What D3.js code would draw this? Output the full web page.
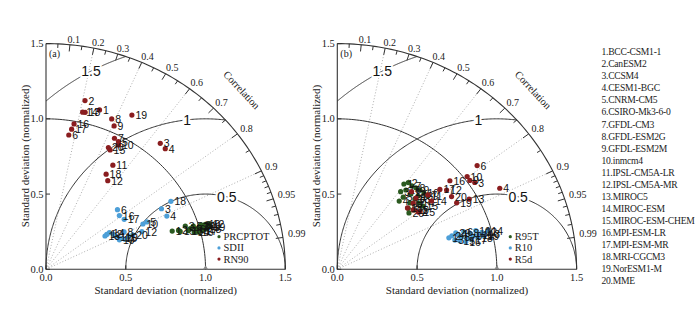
<!DOCTYPE html>
<html><head><meta charset="utf-8">
<script src="https://cdn.jsdelivr.net/npm/d3@7"></script>
<style>body{margin:0;background:#fff;} svg{display:block;}</style>
</head><body><svg id="chart" width="698" height="311"></svg>
<script>
// ---------------- DATA ----------------
const models = ["BCC-CSM1-1","CanESM2","CCSM4","CESM1-BGC","CNRM-CM5","CSIRO-Mk3-6-0","GFDL-CM3","GFDL-ESM2G","GFDL-ESM2M","inmcm4","IPSL-CM5A-LR","IPSL-CM5A-MR","MIROC5","MIROC-ESM","MIROC-ESM-CHEM","MPI-ESM-LR","MPI-ESM-MR","MRI-CGCM3","NorESM1-M","MME"];

const sdTicks = [0.0, 0.5, 1.0, 1.5];
const sdTickLabels = ["0.0", "0.5", "1.0", "1.5"];
const corrMajor = [0.1,0.2,0.3,0.4,0.5,0.6,0.7,0.8,0.9,0.95,0.99];
const corrMajorLabels = ["0.1","0.2","0.3","0.4","0.5","0.6","0.7","0.8","0.9","0.95","0.99"];
const corrMinor = [0.05,0.15,0.25,0.35,0.45,0.55,0.65,0.75,0.85,0.91,0.92,0.93,0.94,0.96,0.97,0.98];
const corrRays = [0.2,0.4,0.6,0.8,0.9];
const rmsLevels = [0.5, 1.0, 1.5];
const rmsLabels = ["0.5", "1", "1.5"];

// Panel (a)
const seriesA = ["PRCPTOT", "SDII", "RN90"];
const prcptotSD = [0.831,0.870,0.919,0.944,0.967,0.979,1.001,1.017,1.023,1.042,1.051,1.067,0.928,0.962,0.878,0.986,1.012,1.039,1.067,1.009];
const prcptotR  = [0.952,0.955,0.950,0.958,0.955,0.962,0.960,0.957,0.964,0.958,0.962,0.959,0.961,0.966,0.958,0.968,0.967,0.966,0.964,0.958];
const sdiiSD = [0.446,0.482,0.828,0.836,0.706,0.598,0.534,0.549,0.561,0.678,0.494,0.651,0.431,0.466,0.518,0.582,0.592,0.904,0.500,0.590];
const sdiiR  = [0.854,0.876,0.874,0.906,0.895,0.749,0.928,0.892,0.922,0.896,0.898,0.923,0.858,0.853,0.918,0.790,0.828,0.866,0.920,0.922];
const rn90SD = [1.111,1.148,1.102,1.096,0.962,0.904,0.971,1.081,1.044,0.943,0.809,0.705,1.072,1.069,0.889,0.982,0.945,0.736,1.158,0.899];
const rn90R  = [0.302,0.213,0.650,0.682,0.472,0.158,0.442,0.381,0.409,0.482,0.518,0.549,0.229,0.215,0.452,0.179,0.170,0.512,0.465,0.435];

// Panel (b)
const seriesB = ["R95T", "R10", "R5d"];
const r95tSD = [0.704,0.728,0.651,0.597,0.633,0.602,0.725,0.732,0.739,0.743,0.748,0.681,0.675,0.675,0.682,0.680,0.634,0.702,0.621,0.585];
const r95tR  = [0.593,0.611,0.610,0.650,0.653,0.739,0.645,0.673,0.701,0.731,0.759,0.677,0.721,0.758,0.787,0.632,0.718,0.720,0.773,0.768];
const r10SD = [0.730,0.752,0.762,0.791,0.804,0.831,0.838,0.865,0.878,0.905,0.916,0.939,0.954,0.978,0.791,0.826,0.865,0.905,0.945,0.781];
const r10R  = [0.958,0.955,0.967,0.956,0.964,0.954,0.969,0.961,0.968,0.959,0.968,0.965,0.970,0.965,0.971,0.975,0.974,0.973,0.972,0.951];
const r5dSD = [0.695,0.634,1.037,1.152,0.648,1.115,0.753,0.684,1.019,1.021,0.618,0.864,0.949,0.745,0.644,0.919,0.834,0.600,0.869,0.864];
const r5dR  = [0.670,0.800,0.831,0.884,0.735,0.786,0.754,0.721,0.815,0.797,0.770,0.793,0.871,0.793,0.804,0.768,0.771,0.733,0.861,0.829];

const colors = ["#2b5a20", "#4d9fd8", "#8a1d1f"];

// ---------------- DRAW ----------------
const svg = d3.select("#chart");
const serif = "'Liberation Serif','Times New Roman',serif";
const sans = "'Liberation Sans',Arial,sans-serif";
const axisCol = "#333";

function drawPanel(x0, tag, names, sds, rs) {
  const g = svg.append("g");
  const xs = d3.scaleLinear().domain([0, 1.5]).range([x0, x0 + 239.3]);
  const ys = d3.scaleLinear().domain([0, 1.5]).range([269.3, 43.6]);
  const P = (sd, c) => [xs(sd * c), ys(sd * Math.sqrt(Math.max(0, 1 - c * c)))];
  const line = d3.line();

  corrRays.forEach(c => {
    g.append("path").attr("d", line([P(0, c), P(1.5, c)]))
      .attr("stroke", "#9a9a9a").attr("stroke-width", 0.8)
      .attr("stroke-dasharray", "1,2").attr("fill", "none");
  });

  const sdArc = d3.range(0, 91).map(a => { const t = a * Math.PI / 180; return [xs(Math.cos(t)), ys(Math.sin(t))]; });
  g.append("path").attr("d", line(sdArc)).attr("stroke", axisCol).attr("stroke-width", 1).attr("fill", "none");

  const rmsAngles = [74.5, 96.6, 118.6];
  rmsLevels.forEach((R, i) => {
    const xi = (3.25 - R * R) / 2;
    const fmin = Math.acos(Math.min(1, (xi - 1) / R));
    const fmax = R <= 1 ? Math.PI : Math.acos(-1 / R);
    const pts = d3.range(0, 201).map(k => {
      const f = fmin + (fmax - fmin) * k / 200;
      return [xs(1 + R * Math.cos(f)), ys(R * Math.sin(f))];
    });
    g.append("path").attr("d", line(pts)).attr("stroke", axisCol).attr("stroke-width", 1).attr("fill", "none");
    const fl = rmsAngles[i] * Math.PI / 180;
    g.append("text").attr("x", xs(1 + R * Math.cos(fl))).attr("y", ys(R * Math.sin(fl)))
      .attr("text-anchor", "middle").attr("dominant-baseline", "central")
      .attr("font-family", sans).attr("font-size", 14).attr("fill", "#111")
      .attr("stroke", "#fff").attr("stroke-width", 4).attr("paint-order", "stroke")
      .text(rmsLabels[i]);
  });

  const outer = d3.range(0, 91).map(a => { const t = a * Math.PI / 180; return [xs(1.5 * Math.cos(t)), ys(1.5 * Math.sin(t))]; });
  g.append("path").attr("d", line(outer)).attr("stroke", axisCol).attr("stroke-width", 1.1).attr("fill", "none");

  g.append("path").attr("d", line([[xs(0), ys(0)], [xs(1.5), ys(0)]])).attr("stroke", axisCol).attr("stroke-width", 1.1);
  g.append("path").attr("d", line([[xs(0), ys(0)], [xs(0), ys(1.5)]])).attr("stroke", axisCol).attr("stroke-width", 1.1);

  sdTicks.forEach((v, i) => {
    g.append("line").attr("x1", xs(v)).attr("x2", xs(v)).attr("y1", ys(0)).attr("y2", ys(0) - 4).attr("stroke", axisCol);
    g.append("line").attr("x1", xs(0)).attr("x2", xs(0) + 4).attr("y1", ys(v)).attr("y2", ys(v)).attr("stroke", axisCol);
    g.append("text").attr("x", xs(v)).attr("y", ys(0) + 8.5).attr("text-anchor", "middle")
      .attr("dominant-baseline", "central").attr("font-family", serif).attr("font-size", 10.5).attr("fill", "#222").text(sdTickLabels[i]);
    g.append("text").attr("x", xs(0) - 2.5).attr("y", ys(v)).attr("text-anchor", "end")
      .attr("dominant-baseline", "central").attr("font-family", serif).attr("font-size", 10.5).attr("fill", "#222").text(sdTickLabels[i]);
  });

  g.append("path").attr("d", `M${xs(1) - 2.5},${ys(0)} L${xs(1) + 2.5},${ys(0)} L${xs(1)},${ys(0) - 4} Z`).attr("fill", "#888");

  const tick = (c, len) => {
    const a = P(1.5, c), b = P(1.5 - len, c);
    g.append("line").attr("x1", a[0]).attr("y1", a[1]).attr("x2", b[0]).attr("y2", b[1]).attr("stroke", axisCol).attr("stroke-width", 1);
  };
  corrMajor.forEach(c => tick(c, 0.045));
  corrMinor.forEach(c => tick(c, 0.027));
  corrMajor.forEach((c, i) => {
    const t = Math.acos(c) + 0.012;
    g.append("text").attr("x", xs(1.535 * Math.cos(t))).attr("y", ys(1.535 * Math.sin(t)))
      .attr("dominant-baseline", "central").attr("font-family", serif).attr("font-size", 10).attr("fill", "#222")
      .text(corrMajorLabels[i]);
  });
  g.append("text").attr("transform", `translate(${x0 + 195.7},90) rotate(47)`)
    .attr("text-anchor", "middle").attr("dominant-baseline", "central")
    .attr("font-family", serif).attr("font-size", 10.5).attr("fill", "#222").text("Correlation");

  g.append("text").attr("x", (xs(0) + xs(1.5)) / 2).attr("y", 289.5).attr("text-anchor", "middle")
    .attr("dominant-baseline", "central").attr("font-family", serif).attr("font-size", 11).attr("fill", "#222")
    .text("Standard deviation (normalized)");
  g.append("text").attr("transform", `translate(${x0 - 21},156) rotate(-90)`).attr("text-anchor", "middle")
    .attr("dominant-baseline", "central").attr("font-family", serif).attr("font-size", 11).attr("fill", "#222")
    .text("Standard deviation (normalized)");
  g.append("text").attr("x", x0 + 3).attr("y", 53).attr("dominant-baseline", "central")
    .attr("font-family", serif).attr("font-size", 10).attr("fill", "#222").text(tag);

  names.forEach((nm, s) => {
    const sdArr = sds[s], rArr = rs[s];
    const pts = sdArr.map((sd, i) => ({ p: P(sd, rArr[i]), id: i + 1 }));
    g.append("g").selectAll("circle").data(pts).join("circle")
      .attr("cx", d => d.p[0]).attr("cy", d => d.p[1]).attr("r", 2.6).attr("fill", colors[s]);
    g.append("g").selectAll("text").data(pts).join("text")
      .attr("x", d => d.p[0] + 3.5).attr("y", d => d.p[1]).attr("dominant-baseline", "central")
      .attr("font-family", sans).attr("font-size", 10.5).attr("fill", "#111").text(d => d.id);
  });

  names.forEach((nm, s) => {
    const ly = 236.7 + s * 11.2;
    g.append("circle").attr("cx", x0 + 173).attr("cy", ly).attr("r", 1.6).attr("fill", colors[s]);
    g.append("text").attr("x", x0 + 177.5).attr("y", ly).attr("dominant-baseline", "central")
      .attr("font-family", serif).attr("font-size", 10.5).attr("fill", "#222").text(nm);
  });
}

drawPanel(46, "(a)", seriesA, [prcptotSD, sdiiSD, rn90SD], [prcptotR, sdiiR, rn90R]);
drawPanel(337.3, "(b)", seriesB, [r95tSD, r10SD, r5dSD], [r95tR, r10R, r5dR]);

svg.append("g").selectAll("text").data(models).join("text")
  .attr("x", 601.5).attr("y", (d, i) => 51.7 + i * 12.05).attr("dominant-baseline", "central")
  .attr("font-family", serif).attr("font-size", 9.6).attr("letter-spacing", "-0.25px").attr("fill", "#222")
  .text((d, i) => (i + 1) + "." + d);
</script></body></html>
